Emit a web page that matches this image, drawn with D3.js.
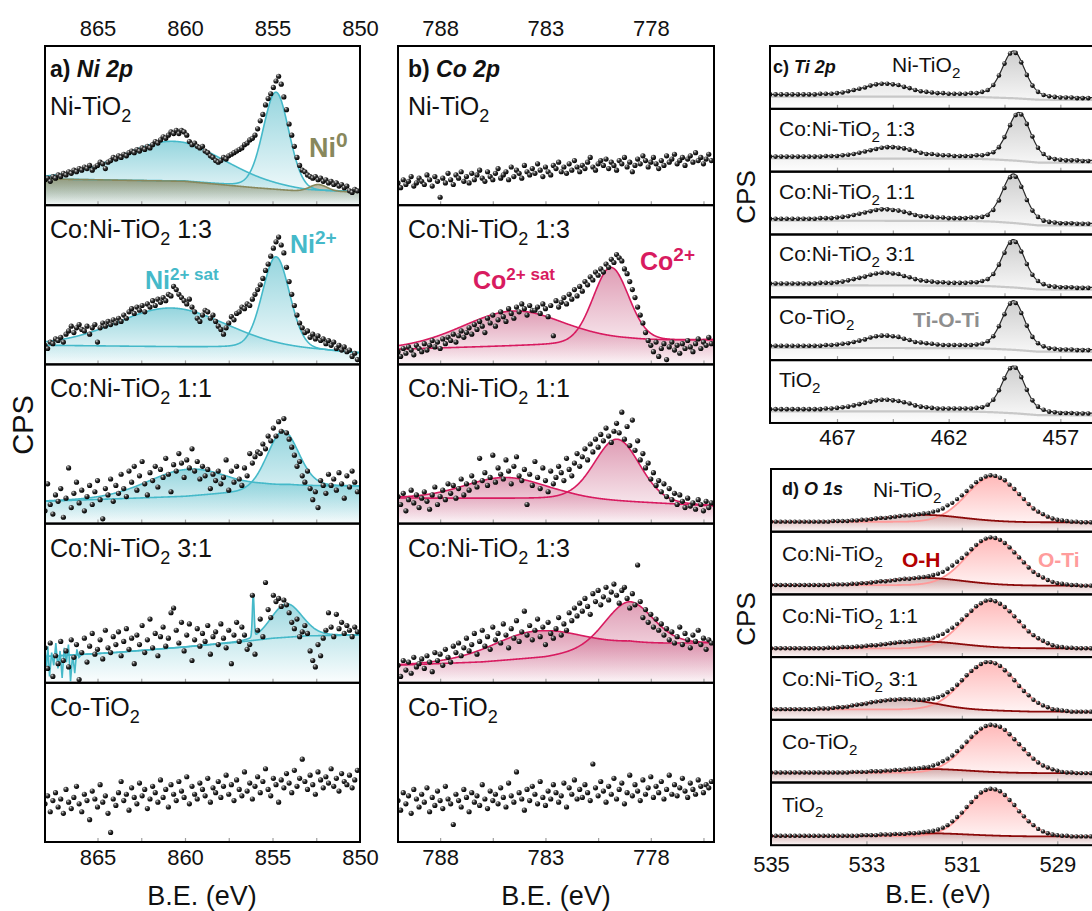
<!DOCTYPE html>
<html>
<head>
<meta charset="utf-8">
<script src="https://cdn.jsdelivr.net/npm/d3@7"></script>
<style>
  body { margin: 0; background: #fff; }
  svg { display: block; font-family: "Liberation Sans", Arial, sans-serif; }
</style>
</head>
<body>
<svg id="fig" width="1092" height="911"></svg>
<script>
// ---------------- data (counts normalised 0-100 inside each strip) ----------------
// energy grids of the measured points
var niStart = 868, niStep = 0.15;
var coStart = 790, coStep = 0.125;
var tiStart = 470, tiStep = 0.25;
var oStart = 535, oStep = 0.1;

var niSamples = ["Ni-TiO2", "Co:Ni-TiO2 1:3", "Co:Ni-TiO2 1:1", "Co:Ni-TiO2 3:1", "Co-TiO2"];
var coSamples = ["Ni-TiO2", "Co:Ni-TiO2 1:3", "Co:Ni-TiO2 1:1", "Co:Ni-TiO2 1:3", "Co-TiO2"];
var tiSamples = ["Ni-TiO2", "Co:Ni-TiO2 1:3", "Co:Ni-TiO2 1:1", "Co:Ni-TiO2 3:1", "Co-TiO2", "TiO2"];
var oSamples = ["Ni-TiO2", "Co:Ni-TiO2", "Co:Ni-TiO2 1:1", "Co:Ni-TiO2 3:1", "Co-TiO2", "TiO2"];

var niTicks = [865, 862.5, 860, 857.5, 855, 852.5];
var niLabels = [865, 860, 855, 850];
var coTicks = [788, 785.5, 783, 780.5, 778, 775.5];
var coLabels = [788, 783, 778];
var tiTicks = [467, 464.5, 462, 459.5, 457];
var tiLabels = [467, 462, 457];
var oTicks = [533, 531, 529];
var oLabels = [535, 533, 531, 529];

// Ni 2p counts
var niNiTiO2 = [16,17,15,18,17,19,18,20,19,21,20,22,21,23,22,24,23,25,22,24,25,27,26,23,27,28,30,29,31,30,32,31,33,34,33,35,34,36,35,37,36,38,40,39,41,43,42,44,46,45,47,45,47,46,44,40,38,39,37,36,37,34,33,31,30,28,27,28,30,29,31,32,33,34,35,36,38,39,41,42,44,48,53,57,63,67,70,74,78,81,76,68,60,51,44,37,30,25,22,21,19,18,17,18,16,17,15,16,14,15,13,14,12,13,11,12,9,8,10,9];
var niCoNi13 = [12,10,14,13,16,15,17,14,19,21,24,20,23,25,22,21,24,19,23,25,14,23,26,24,27,25,28,26,29,27,31,29,33,35,32,36,34,37,33,38,36,40,37,41,39,42,40,44,43,49,47,44,42,40,38,41,36,33,29,27,31,34,33,29,31,27,24,22,19,23,26,30,28,32,33,36,35,38,37,41,44,47,50,54,59,63,68,73,77,80,75,70,61,52,44,37,31,26,23,20,21,17,19,16,18,15,16,13,15,12,14,10,12,9,11,8,9,5,7,3];
var niCoNi11 = [8,25,12,6,18,14,22,4,16,35,10,19,26,13,21,8,17,24,12,20,27,15,3,22,18,28,14,24,19,31,22,17,33,26,36,21,30,39,25,18,32,27,36,23,34,29,41,31,20,37,33,44,38,29,40,35,47,33,39,28,36,30,34,22,31,27,33,25,29,40,21,33,26,36,28,24,35,30,44,38,42,45,44,50,47,55,52,60,55,64,58,66,57,53,48,43,36,39,30,26,33,22,15,20,10,27,24,19,31,24,28,21,32,25,16,30,23,33,26,20];
var niCoNi31 = [22,9,25,4,17,12,26,14,20,10,27,16,24,2,19,28,13,23,31,18,21,27,15,33,22,19,29,24,32,17,26,34,21,28,12,30,24,36,19,27,40,22,31,17,29,35,23,28,44,47,33,25,38,20,30,37,14,27,34,23,31,26,36,18,29,32,24,37,28,22,33,12,30,38,26,35,30,21,24,55,18,33,40,29,63,46,41,55,51,53,48,52,49,44,38,34,40,29,32,36,31,20,14,10,24,17,28,33,44,35,29,43,34,38,31,36,33,29,35,32];
var niCoTiO2 = [24,29,19,26,31,22,27,18,33,25,21,28,35,24,19,30,26,14,32,27,22,36,25,29,18,6,27,23,31,38,26,30,20,34,28,24,37,29,33,21,27,35,31,25,39,28,33,22,36,30,26,38,32,28,41,24,35,30,27,37,33,29,40,25,34,31,38,28,35,42,30,36,26,39,33,29,44,32,37,27,35,41,31,38,46,33,29,40,36,25,39,34,43,37,31,45,35,40,52,38,33,42,36,30,44,39,34,41,37,46,35,40,32,43,38,36,42,34,39,45];
var niCounts = [niNiTiO2, niCoNi13, niCoNi11, niCoNi31, niCoTiO2];

// Ni 2p fit: backgrounds [eV, counts], peaks {c centre, h height, w FWHM}
var niBackground = [
  [[868,16.5],[860,15],[856,11],[853,8.5],[850,8.5]],
  [[868,12],[857,10.5],[852,8.5],[850,7]],
  [[868,14],[860,17],[857,19.5],[855.5,22],[854,23.5],[850,23.5]],
  [[868,16.5],[864,19],[860,22.5],[857,25.5],[855,28],[853,29.5],[850,30]],
  null
];
var niSat = [{c:860.7,h:25,w:7.1}, {c:860.8,h:24.4,w:7.4}, {c:859.8,h:17,w:5.5}, null, null];
var niMain = [{c:854.8,h:61,w:1.75}, {c:854.8,h:58,w:1.85}, {c:854.4,h:35,w:2.1}, {c:854.2,h:21,w:2.1}, null];
var niMetal = {c:852.4, h:4.5, w:1.2};
var niSpike = {c:856.1, h:26, w:0.12};
var niGlitch = [[868,21],[867.92,8],[867.84,23],[867.74,4],[867.62,19],[867.5,11],[867.38,25],[867.26,9],[867.14,20],[867.02,3],[866.9,22],[866.78,13],[866.66,24],[866.54,1],[866.42,18],[866.3,6],[866.18,21],[866.06,16],[865.9,18],[865.8,18.5]];

// Co 2p counts
var coNiTiO2 = [14,11,16,13,15,18,12,14,17,15,13,19,16,12,18,15,5,17,14,20,16,13,19,17,21,15,18,14,20,16,19,22,17,15,21,18,16,20,23,17,19,21,16,24,18,22,20,17,25,21,19,23,20,26,22,18,24,21,19,25,23,27,21,24,20,26,22,28,24,21,25,23,27,30,24,22,26,28,25,29,23,27,25,22,28,26,30,24,27,21,25,29,26,31,28,24,27,30,26,23,28,25,31,27,29,32,26,28,30,25,29,31,27,33,28,30,26,29,32,28];
var coCoNi13 = [8,5,10,7,11,9,6,12,10,8,13,9,12,15,11,14,10,16,13,17,15,19,14,18,21,17,20,23,19,25,22,27,24,20,29,26,31,24,28,33,30,27,35,32,29,36,33,38,35,31,37,34,34,36,32,38,35,30,37,18,40,36,39,42,38,44,41,47,43,49,46,52,50,55,53,58,56,60,58,63,61,66,64,69,67,65,60,57,52,47,42,36,31,26,20,15,12,8,14,5,10,13,3,11,14,9,12,7,13,10,15,11,8,13,16,10,14,12,17,13];
var coCoNi11 = [17,12,19,8,15,21,13,18,10,16,20,14,9,18,23,12,17,21,15,25,19,24,16,22,28,18,25,21,30,26,23,41,27,32,24,29,43,26,35,31,28,40,33,25,36,42,30,27,34,12,31,24,39,29,22,35,27,20,33,25,29,36,32,27,41,34,30,38,44,36,42,47,40,50,45,53,48,56,52,60,55,51,58,63,57,70,53,61,49,65,46,52,40,44,35,38,28,32,24,27,20,25,17,22,15,19,12,18,14,10,16,11,13,9,15,12,8,14,10,13];
var coCoNi13b = [11,4,14,8,13,6,16,10,12,15,9,17,13,7,19,14,18,11,21,16,13,23,19,25,17,22,28,20,24,31,18,26,33,23,29,21,35,27,31,25,37,30,22,34,28,39,26,32,45,30,36,27,33,40,29,35,24,38,31,28,34,41,30,37,33,44,39,47,42,50,45,53,48,43,56,51,58,49,54,60,52,57,62,55,50,58,60,53,47,56,49,74,51,41,46,38,43,35,40,33,37,30,34,27,32,25,29,35,24,31,27,22,30,26,33,24,28,21,27,25];
var coCoTiO2 = [26,20,31,24,29,18,33,27,22,30,25,34,19,28,23,32,26,21,35,27,24,11,30,26,22,33,28,19,31,25,29,23,36,27,21,32,26,30,24,34,28,22,37,29,25,44,31,27,20,33,26,35,30,24,38,28,23,32,27,36,31,25,29,37,22,34,30,39,27,33,28,36,31,26,49,34,29,38,32,25,35,30,40,27,33,37,24,31,42,29,36,32,26,39,30,34,41,28,35,31,38,27,33,42,30,36,29,34,40,32,28,37,33,30,39,35,31,36,34,38];
var coCounts = [coNiTiO2, coCoNi13, coCoNi11, coCoNi13b, coCoTiO2];

var coBackground = [
  null,
  [[790,9.5],[782,12.5],[779,14.5],[775,15.3]],
  [[790,16],[782,15.5],[778,13],[775,11]],
  [[790,11],[786,13],[783,16],[781,20],[779,24],[775,25]],
  null
];
var coSat = [null, {c:784.5,h:22,w:5.8}, {c:784.9,h:13.3,w:4.6}, {c:783.4,h:17,w:5.0}, null];
var coMain = [null, {c:779.9,h:47,w:2.0}, {c:779.6,h:39,w:2.55}, {c:779.05,h:27,w:2.7}, null];

// Ti 2p counts
var tiNiTiO2 = [23,23,23,23,23,23,23,23,23,24,24,24,25,26,28,30,32,34,37,39,40,40,39,38,35,33,30,28,27,26,25,25,24,24,24,24,25,25,27,30,38,53,72,88,89,74,54,37,27,22,20,19,18,18,18,17,17,17];
var tiCoNi13 = [24,24,24,24,24,24,24,24,24,24,25,25,25,26,27,28,30,32,34,36,38,39,39,38,37,35,33,30,28,28,27,26,26,25,25,25,25,26,26,28,31,39,55,74,90,91,76,56,38,28,22,20,19,18,18,18,17,17];
var tiCoNi11 = [25,25,25,25,25,25,25,25,25,26,26,26,27,28,29,31,33,35,37,39,40,40,39,38,36,34,31,29,29,28,27,27,26,26,26,26,27,27,28,31,39,54,74,91,92,76,55,38,28,22,20,19,18,18,18,17,17,17];
var tiCoNi31 = [22,22,22,22,22,22,22,22,22,23,23,23,24,25,27,29,31,33,36,38,39,39,38,37,34,32,29,27,26,25,24,24,23,23,23,23,24,24,26,29,37,52,71,87,88,73,53,36,26,21,18,17,16,16,16,15,15,15];
var tiCoTiO2 = [23,23,23,23,23,23,23,23,23,23,24,24,25,26,27,29,31,33,36,38,39,39,38,37,34,32,29,28,27,26,25,24,24,24,24,24,24,25,26,30,38,54,73,90,91,75,55,37,27,22,19,18,17,17,17,16,16,16];
var tiTiO2 = [22,22,22,22,22,22,22,22,22,22,23,23,24,25,26,28,30,32,34,36,37,37,36,35,33,31,28,26,25,24,23,23,23,23,23,23,23,24,25,29,37,52,71,87,88,73,53,36,26,21,18,17,16,16,16,15,15,15];
var tiCounts = [tiNiTiO2, tiCoNi13, tiCoNi11, tiCoNi31, tiCoTiO2, tiTiO2];

var tiBgLeft = [22.5, 24, 25, 22, 22.5, 21.6];
var tiBgRight = [17, 17, 17, 15, 16, 15];
var tiHalf = [{c:464.85,h:18,w:2.4}, {c:464.6,h:16,w:2.4}, {c:464.85,h:16,w:2.4}, {c:464.85,h:17,w:2.4}, {c:464.85,h:16.5,w:2.4}, {c:464.85,h:16,w:2.4}];
var tiMain = [{c:459.1,h:72,w:1.2}, {c:458.85,h:74,w:1.2}, {c:459.1,h:75,w:1.2}, {c:459.1,h:73,w:1.2}, {c:459.1,h:75,w:1.2}, {c:459.1,h:72,w:1.2}];

// O 1s counts
var oNiTiO2 = [16,16,16,16,16,16,16,16,16,16,16,16,16,17,17,17,17,18,18,19,19,20,21,22,22,23,24,25,26,26,27,28,29,30,32,34,37,42,46,52,58,65,72,79,84,88,90,89,86,82,75,68,60,52,44,37,32,28,24,21,19,18,17,16,16,15,15,15];
var oCoNi = [15,15,15,15,15,15,15,15,15,15,15,15,15,16,16,16,16,17,17,18,18,19,20,21,21,22,23,24,25,25,26,27,28,29,31,33,36,41,46,52,58,65,72,79,85,89,91,90,87,82,75,67,59,51,43,36,31,27,23,20,18,17,16,15,15,14,14,14];
var oCoNi11 = [14,14,14,14,14,14,14,14,14,14,14,14,15,15,15,16,16,16,17,17,18,19,19,20,21,22,23,24,24,25,26,27,28,29,31,34,37,42,47,53,60,67,74,81,86,90,91,89,85,80,73,65,57,49,41,35,30,26,22,19,17,16,15,15,14,14,14,14];
var oCoNi31 = [17,17,17,17,17,17,17,17,17,17,18,18,18,19,20,20,21,23,24,25,26,28,29,30,31,32,32,33,33,33,32,32,32,33,34,36,39,44,49,56,63,71,78,84,89,92,92,90,86,79,72,63,54,46,39,32,27,23,20,17,16,15,14,13,13,13,13,13];
var oCoTiO2 = [16,16,16,16,16,16,16,16,16,16,16,16,16,16,16,16,16,17,17,17,17,18,18,18,19,19,20,20,21,22,22,23,24,25,27,30,34,38,43,50,57,65,73,80,86,90,92,91,89,84,77,69,61,53,45,38,32,27,24,21,19,17,16,16,15,15,15,15];
var oTiO2 = [15,15,15,15,15,15,15,15,15,15,15,15,15,15,15,15,15,15,15,16,16,16,16,17,17,17,18,18,18,19,19,20,21,22,23,25,28,32,38,45,52,61,69,77,84,88,90,89,86,80,72,64,54,46,38,32,26,22,19,17,16,15,15,14,14,14,14,14];
var oCounts = [oNiTiO2, oCoNi, oCoNi11, oCoNi31, oCoTiO2, oTiO2];

var oBgLeft = [16, 15, 14, 16.7, 15.7, 14.7];
var oBgRight = [15, 14, 14, 13, 15, 14];
var oHydroxyl = [{c:531.8,h:11,w:1.9}, {c:531.8,h:11.5,w:1.9}, {c:531.8,h:11,w:1.9}, {c:532.3,h:16,w:1.7}, {c:531.7,h:6,w:1.9}, {c:531.7,h:4.5,w:1.9}];
var oLattice = [{c:530.35,h:72,w:1.3}, {c:530.35,h:75,w:1.3}, {c:530.4,h:76,w:1.3}, {c:530.42,h:78,w:1.3}, {c:530.35,h:75,w:1.3}, {c:530.37,h:75,w:1.2}];

// ---------------- layout ----------------
var A = { key: "ni", x: d3.scaleLinear().domain([868, 850]).range([45, 360]), top: 46, h: 159.2 };
var B = { key: "co", x: d3.scaleLinear().domain([790, 775]).range([398, 714]), top: 46, h: 159.2 };
var C = { key: "ti", x: d3.scaleLinear().domain([470, 455]).range([770, 1105]), top: 46, h: 62.83 };
var D = { key: "o",  x: d3.scaleLinear().domain([535, 528]).range([771, 1105]), top: 469, h: 62.7 };

var teal = "#45b9c9", olive = "#88885c", crimson = "#d81b60";

var svg = d3.select("#fig");
var defs = svg.append("defs");

function fade(id, color, a) {
  var g = defs.append("linearGradient").attr("id", id)
    .attr("x1", 0).attr("y1", 0).attr("x2", 0).attr("y2", 1);
  g.append("stop").attr("offset", 0).attr("stop-color", color).attr("stop-opacity", a);
  g.append("stop").attr("offset", 1).attr("stop-color", color).attr("stop-opacity", 0.02);
}
fade("fTeal", "#3fb3c3", 0.55);
fade("fOlive", "#8a8a66", 0.8);
fade("fPink", "#bf3a6a", 0.5);
fade("fGray", "#b8b8b8", 0.7);
fade("fSalmon", "#ff8c8c", 0.6);
fade("fMaroon", "#9a5a5a", 0.45);

var ball = defs.append("radialGradient").attr("id", "ball")
  .attr("cx", "35%").attr("cy", "30%").attr("r", "70%");
ball.append("stop").attr("offset", "0%").attr("stop-color", "#e0e0e0");
ball.append("stop").attr("offset", "40%").attr("stop-color", "#3a3a3a");
ball.append("stop").attr("offset", "100%").attr("stop-color", "#000");

// pseudo-Voigt fit component
function pv(E, p, eta) {
  var u = (E - p.c) / p.w;
  return p.h * ((1 - eta) * Math.exp(-4 * Math.LN2 * u * u) + eta / (1 + 4 * u * u));
}
function bgScale(anchors) {
  return d3.scaleLinear().domain(anchors.map(function(a) { return a[0]; }))
    .range(anchors.map(function(a) { return a[1]; })).clamp(true);
}

function makePanel(L, i) {
  var top = L.top + i * L.h, bottom = top + L.h, r = L.x.range();
  var y = d3.scaleLinear().domain([0, 100]).range([bottom, top]);
  defs.append("clipPath").attr("id", "clip-" + L.key + i).append("rect")
    .attr("x", r[0]).attr("y", top).attr("width", r[1] - r[0]).attr("height", L.h);
  var g = svg.append("g").attr("clip-path", "url(#clip-" + L.key + i + ")");
  return { g: g, x: L.x, y: y, top: top, bottom: bottom, L: L };
}

function drawFit(P, grid, comps) {
  comps.forEach(function(c) {
    if (!c.fill) return;
    P.g.append("path").datum(grid)
      .attr("d", d3.area().x(function(e) { return P.x(e); }).y0(P.bottom)
        .y1(function(e) { return P.y(c.fn(e)); }))
      .attr("fill", "url(#" + c.fill + ")");
  });
  comps.forEach(function(c) {
    if (!c.stroke) return;
    P.g.append("path").datum(grid)
      .attr("d", d3.line().x(function(e) { return P.x(e); }).y(function(e) { return P.y(c.fn(e)); }))
      .attr("fill", "none").attr("stroke", c.stroke).attr("stroke-width", c.width || 1.6);
  });
}

function drawDots(P, counts, start, step, r) {
  P.g.append("g").selectAll("circle").data(counts).enter().append("circle")
    .attr("cx", function(v, i) { return P.x(start - i * step); })
    .attr("cy", function(v) { return P.y(v); })
    .attr("r", r).attr("fill", "url(#ball)");
}

function frame(P, ticks) {
  var a = svg.append("g").attr("transform", "translate(0," + P.bottom + ")")
    .call(d3.axisTop(P.x).tickValues(ticks).tickSize(4).tickFormat(""));
  a.select(".domain").remove();
  a.selectAll("line").attr("stroke", "#a0a0a0").attr("stroke-width", 1.2);
  var r = P.x.range();
  svg.append("rect").attr("x", r[0]).attr("y", P.top).attr("width", r[1] - r[0]).attr("height", P.bottom - P.top)
    .attr("fill", "none").attr("stroke", "#000").attr("stroke-width", 2);
}

function chem(x, y, s, fs) {
  var t = svg.append("text").attr("x", x).attr("y", y).attr("font-size", fs).attr("fill", "#111");
  var k = s.indexOf("O2");
  t.append("tspan").text(s.slice(0, k + 1));
  t.append("tspan").attr("font-size", fs * 0.72).attr("dy", fs * 0.28).text("2");
  t.append("tspan").attr("dy", -fs * 0.28).text(s.slice(k + 2));
}

function title(x, y, tag, name, fs) {
  var t = svg.append("text").attr("x", x).attr("y", y).attr("font-size", fs)
    .attr("font-weight", "bold").attr("fill", "#111");
  t.append("tspan").text(tag + " ");
  t.append("tspan").attr("font-style", "italic").text(name);
}

function supText(x, y, base, sup, fs, sfs, color) {
  var t = svg.append("text").attr("x", x).attr("y", y).attr("font-size", fs)
    .attr("font-weight", "bold").attr("fill", color);
  t.append("tspan").text(base);
  t.append("tspan").attr("font-size", sfs).attr("dy", -fs * 0.38).text(sup);
}

function tickLabels(x, vals, yBase, fs) {
  var a = svg.append("g").attr("transform", "translate(0," + yBase + ")")
    .call(d3.axisBottom(x).tickValues(vals).tickSize(0).tickPadding(0).tickFormat(d3.format("d")));
  a.select(".domain").remove();
  a.selectAll("text").attr("y", 0).attr("dy", 0).attr("font-size", fs)
    .attr("font-family", "Liberation Sans, Arial, sans-serif").attr("fill", "#111");
}

function axisTitle(x, y, s, fs, rot) {
  svg.append("text").attr("transform", "translate(" + x + "," + y + ")" + (rot ? " rotate(-90)" : ""))
    .attr("text-anchor", "middle").attr("font-size", fs).attr("fill", "#111").text(s);
}

// ---------------- a) Ni 2p ----------------
var niGrid = d3.range(868, 849.99, -0.02);
niCounts.forEach(function(counts, i) {
  var P = makePanel(A, i), comps = [];
  if (niBackground[i]) {
    var bg = bgScale(niBackground[i]);
    if (niSat[i]) comps.push({ fn: function(e) { return bg(e) + pv(e, niSat[i], 0.15); }, fill: "fTeal", stroke: teal });
    if (i === 3) {
      comps.push({ fn: function(e) { return bg(e) + pv(e, niMain[i], 0.15) + pv(e, niSpike, 0); }, fill: "fTeal", stroke: teal });
      comps.push({ fn: function(e) { return bg(e); }, stroke: teal });
    } else {
      comps.push({ fn: function(e) { return bg(e) + pv(e, niMain[i], 0.15); }, fill: "fTeal", stroke: teal });
    }
    if (i === 0) comps.push({ fn: function(e) { return bg(e) + pv(e, niMetal, 0); }, fill: "fOlive", stroke: olive });
    drawFit(P, niGrid, comps);
  }
  if (i === 3) {
    P.g.append("path").datum(niGlitch)
      .attr("d", d3.line().x(function(d) { return P.x(d[0]); }).y(function(d) { return P.y(d[1]); }))
      .attr("fill", "none").attr("stroke", teal).attr("stroke-width", 1.6);
  }
  drawDots(P, counts, niStart, niStep, 2.6);
  frame(P, niTicks);
  if (i === 0) chem(50, 115, niSamples[i], 25);
  else chem(50, P.top + 33, niSamples[i], 25);
});
title(50, 77, "a)", "Ni 2p", 23);
supText(309, 157, "Ni", "0", 27, 21, olive);
supText(290, 253, "Ni", "2+", 25, 19, teal);
supText(145, 289, "Ni", "2+ sat", 25, 17, teal);

// ---------------- b) Co 2p ----------------
var coGrid = d3.range(790, 774.99, -0.02);
coCounts.forEach(function(counts, i) {
  var P = makePanel(B, i);
  if (coBackground[i]) {
    var bg = bgScale(coBackground[i]);
    drawFit(P, coGrid, [
      { fn: function(e) { return bg(e) + pv(e, coSat[i], 0.15); }, fill: "fPink", stroke: crimson },
      { fn: function(e) { return bg(e) + pv(e, coMain[i], 0.15); }, fill: "fPink", stroke: crimson }
    ]);
  }
  drawDots(P, counts, coStart, coStep, 2.6);
  frame(P, coTicks);
  if (i === 0) chem(408, 115, coSamples[i], 25);
  else chem(408, P.top + 33, coSamples[i], 25);
});
title(408, 77, "b)", "Co 2p", 23);
supText(473, 289, "Co", "2+ sat", 25, 17, crimson);
supText(640, 270, "Co", "2+", 25, 19, crimson);

// ---------------- c) Ti 2p ----------------
var tiGrid = d3.range(470, 454.99, -0.02);
tiCounts.forEach(function(counts, i) {
  var P = makePanel(C, i);
  var L = tiBgLeft[i], R = tiBgRight[i];
  var bg = bgScale([[470, L], [461, L - 0.3], [460, L - 1.5], [459, (L + R) / 2], [458, R + 0.5], [455, R]]);
  drawFit(P, tiGrid, [
    { fn: function(e) { return bg(e) + pv(e, tiHalf[i], 0.3) + pv(e, tiMain[i], 0.3); }, fill: "fGray" },
    { fn: function(e) { return bg(e) - 3; }, stroke: "#c8c8c8", width: 2.2 },
    { fn: function(e) { return bg(e) + pv(e, tiHalf[i], 0.3) + pv(e, tiMain[i], 0.3); }, stroke: "#2a2a2a", width: 1.2 }
  ]);
  drawDots(P, counts, tiStart, tiStep, 2.3);
  frame(P, tiTicks);
  if (i === 0) chem(892, 72, tiSamples[i], 21);
  else chem(779, P.top + 27, tiSamples[i], 21);
});
title(773, 73, "c)", "Ti 2p", 18);
svg.append("text").attr("x", 913).attr("y", 327).attr("font-size", 21).attr("font-weight", "bold")
  .attr("fill", "#8e8e8e").text("Ti-O-Ti");

// ---------------- d) O 1s ----------------
var oGrid = d3.range(535, 527.99, -0.01);
oCounts.forEach(function(counts, i) {
  var P = makePanel(D, i);
  var L = oBgLeft[i], R = oBgRight[i];
  var bg = bgScale([[535, L], [531.5, L - 0.2], [530.4, (L + R) / 2], [529.5, R], [528, R]]);
  drawFit(P, oGrid, [
    { fn: function(e) { return bg(e) + pv(e, oLattice[i], 0); }, fill: "fSalmon", stroke: "#ff9a9a", width: 1.8 },
    { fn: function(e) { return bg(e) + pv(e, oHydroxyl[i], 0); }, fill: "fMaroon", stroke: "#8b0a0a", width: 1.8 }
  ]);
  drawDots(P, counts, oStart, oStep, 2.2);
  frame(P, oTicks);
  if (i === 0) chem(873, 497, oSamples[i], 21);
  else chem(782, P.top + 29, oSamples[i], 21);
});
title(782, 495, "d)", "O 1s", 18);
svg.append("text").attr("x", 902).attr("y", 567).attr("font-size", 21).attr("font-weight", "bold")
  .attr("fill", "#b30000").text("O-H");
svg.append("text").attr("x", 1038).attr("y", 567).attr("font-size", 21).attr("font-weight", "bold")
  .attr("fill", "#ff9c9c").text("O-Ti");

// ---------------- axes text ----------------
tickLabels(A.x, niLabels, 36, 22);
tickLabels(A.x, niLabels, 865, 22);
tickLabels(B.x, coLabels, 36, 22);
tickLabels(B.x, coLabels, 865, 22);
tickLabels(C.x, tiLabels, 445, 22);
tickLabels(D.x, oLabels, 872, 22);

axisTitle(202, 905, "B.E. (eV)", 27, false);
axisTitle(556, 905, "B.E. (eV)", 27, false);
axisTitle(938, 903, "B.E. (eV)", 26, false);
axisTitle(33, 425, "CPS", 29, true);
axisTitle(755, 197, "CPS", 26, true);
axisTitle(755, 619, "CPS", 26, true);
</script>
</body>
</html>
